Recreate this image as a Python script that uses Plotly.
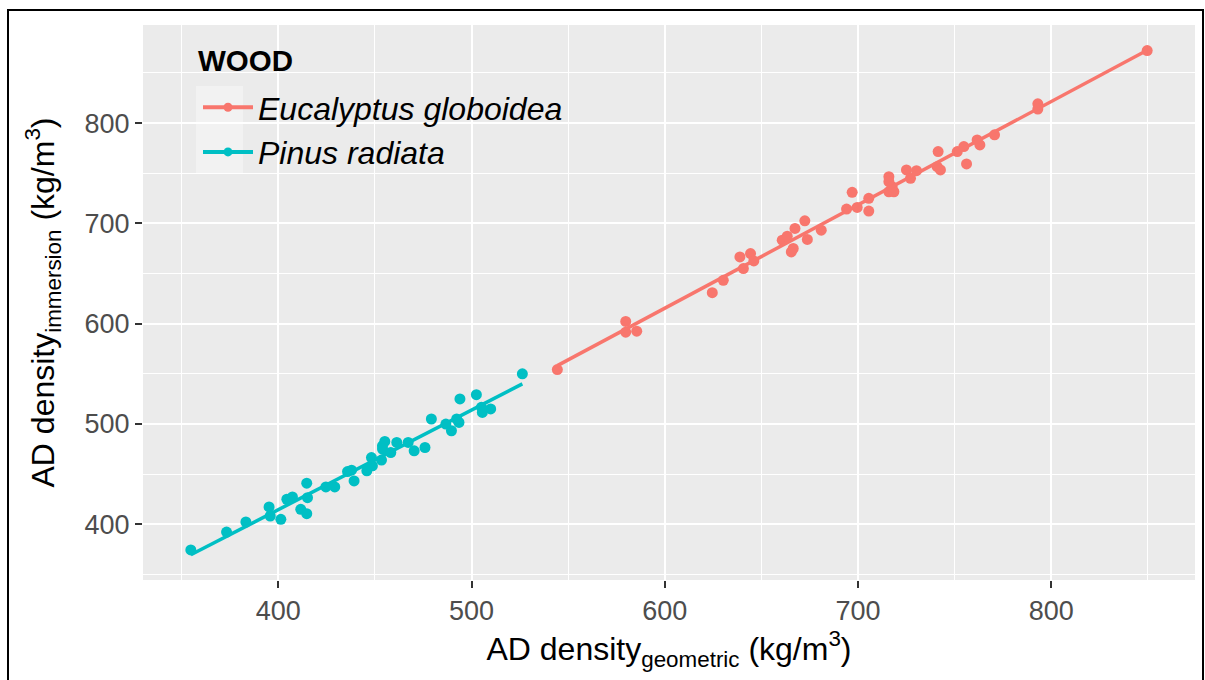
import numpy as np
import plotly.graph_objects as go

# ---- data ----
species = ["Eucalyptus globoidea", "Pinus radiata"]

euc_geometric = [544.4, 579.8, 579.8, 585.5, 624.6, 630.3, 638.9, 644.4, 640.7, 646.1,
                 660.8, 663.4, 667.4, 672.5, 665.5, 666.5, 673.8, 681.0, 694.1, 697.0,
                 699.6, 705.6, 705.6, 716.0, 716.0, 716.0, 718.6, 717.7, 725.1, 730.3,
                 727.2, 741.5, 741.0, 742.7, 751.4, 754.8, 756.2, 761.7, 763.1, 770.7,
                 793.1, 793.1, 849.7]
euc_immersion = [554.3, 602.3, 591.6, 592.6, 631.0, 643.3, 666.6, 670.0, 655.0, 662.6,
                 683.3, 687.3, 695.0, 702.6, 671.6, 675.0, 684.0, 693.3, 714.3, 731.0,
                 716.0, 725.0, 712.3, 746.6, 741.6, 731.6, 731.6, 736.6, 753.3, 752.6,
                 745.0, 771.6, 756.6, 753.3, 771.6, 776.6, 759.3, 783.3, 778.3, 788.3,
                 819.3, 814.0, 872.3]

pin_geometric = [354.7, 373.2, 383.2, 395.2, 395.8, 401.3, 404.4, 407.3, 411.6, 414.7,
                 414.7, 415.1, 424.6, 429.2, 435.8, 437.9, 439.2, 445.8, 448.2, 448.7,
                 453.4, 453.9, 455.1, 453.9, 458.2, 461.3, 467.2, 470.3, 475.9, 479.2,
                 486.7, 489.6, 492.3, 493.5, 494.0, 502.5, 505.1, 505.6, 509.9, 526.3]
pin_immersion = [374.5, 392.3, 402.3, 417.3, 408.3, 405.0, 425.0, 427.3, 415.0, 410.6,
                 441.0, 426.6, 437.3, 437.3, 452.6, 454.0, 443.3, 453.3, 466.6, 458.3,
                 464.0, 478.3, 482.6, 475.0, 471.6, 481.6, 481.6, 473.3, 476.6, 505.0,
                 500.0, 493.3, 505.0, 501.6, 525.0, 529.3, 516.6, 511.6, 515.0, 550.0]

colors = ["#F8766D", "#00BFC4"]

x_ticks = [400, 500, 600, 700, 800]
y_ticks = [400, 500, 600, 700, 800]

legend_title = "WOOD"

FONT = "Liberation Sans, Arial, sans-serif"

fig = go.Figure()

groups = [(euc_geometric, euc_immersion), (pin_geometric, pin_immersion)]
all_x, all_y = [], []
for name, (gx, gy), col in zip(species, groups, colors):
    gx = np.array(gx)
    gy = np.array(gy)
    slope, icpt = np.polyfit(gx, gy, 1)
    lx = np.array([gx.min(), gx.max()])
    ly = icpt + slope * lx
    all_x += list(gx) + list(lx)
    all_y += list(gy) + list(ly)
    fig.add_trace(go.Scatter(x=gx, y=gy, mode="markers",
                             marker=dict(color=col, size=11, line=dict(width=0)),
                             showlegend=False, hoverinfo="skip"))
    fig.add_trace(go.Scatter(x=lx, y=ly, mode="lines",
                             line=dict(color=col, width=3.5),
                             showlegend=False, hoverinfo="skip"))
    fig.add_trace(go.Scatter(x=[None], y=[None], mode="lines+markers",
                             name="<i>" + name + "</i>",
                             line=dict(color=col, width=4),
                             marker=dict(color=col, size=9)))

# ggplot-like 5% expansion
xmin, xmax = min(all_x), max(all_x)
ymin, ymax = min(all_y), max(all_y)
xr = [xmin - 0.05 * (xmax - xmin), xmax + 0.05 * (xmax - xmin)]
yr = [ymin - 0.05 * (ymax - ymin), ymax + 0.05 * (ymax - ymin)]

axis_common = dict(
    showgrid=True, gridcolor="white", gridwidth=2.2,
    zeroline=False, showline=False, automargin=False,
    ticks="outside", ticklen=7, tickwidth=1.5, tickcolor="#333333",
    tickfont=dict(family=FONT, size=27, color="#4D4D4D"),
    minor=dict(showgrid=True, gridcolor="white", gridwidth=1.1, dtick=50, tick0=350, ticks=""),
)

fig.update_xaxes(range=xr, tickvals=x_ticks, **axis_common,
                 title=dict(text="AD density<sub>geometric</sub> (kg/m<sup>3</sup>)",
                            font=dict(family=FONT, size=32, color="black"), standoff=10))
fig.update_yaxes(range=yr, tickvals=y_ticks, **axis_common,
                 title=dict(text="AD density<sub>immersion</sub> (kg/m<sup>3</sup>)",
                            font=dict(family=FONT, size=32, color="black"), standoff=20))

# legend key background (grey95 like ggplot) and outer frame
fig.add_shape(type="rect", xref="paper", yref="paper",
              x0=(196 - 143) / 1052, x1=(243 - 143) / 1052,
              y0=1 - (173 - 25) / 555, y1=1 - (86 - 25) / 555,
              fillcolor="#F2F2F2", line=dict(width=0), layer="between")
fig.add_shape(type="rect", xref="paper", yref="paper",
              x0=(8 - 143) / 1052, x1=(1203 - 143) / 1052,
              y0=1 - (684 - 25) / 555, y1=1 - (10 - 25) / 555,
              line=dict(color="black", width=2), fillcolor="rgba(0,0,0,0)", layer="above")

# legend title as its own text (gives ggplot-like spacing to the keys)
fig.add_annotation(text="<b>" + legend_title + "</b>", xref="paper", yref="paper",
                   x=(196 - 143) / 1052, y=1 - (60 - 25) / 555,
                   xanchor="left", yanchor="middle", showarrow=False,
                   font=dict(family=FONT, size=29.5, color="black"))

fig.update_layout(
    width=1205, height=680,
    margin=dict(l=143, r=10, t=25, b=100, autoexpand=False),
    paper_bgcolor="white", plot_bgcolor="#EBEBEB",
    font=dict(family=FONT),
    legend=dict(x=(198 - 143) / 1052, y=1 - (80 - 25) / 555, xanchor="left", yanchor="top",
                bgcolor="rgba(0,0,0,0)",
                font=dict(family=FONT, size=32, color="black"),
                itemwidth=50, tracegroupgap=0),
)

fig.write_html("out.html", config={"displayModeBar": False},
               post_script="document.body.style.margin='0';")
